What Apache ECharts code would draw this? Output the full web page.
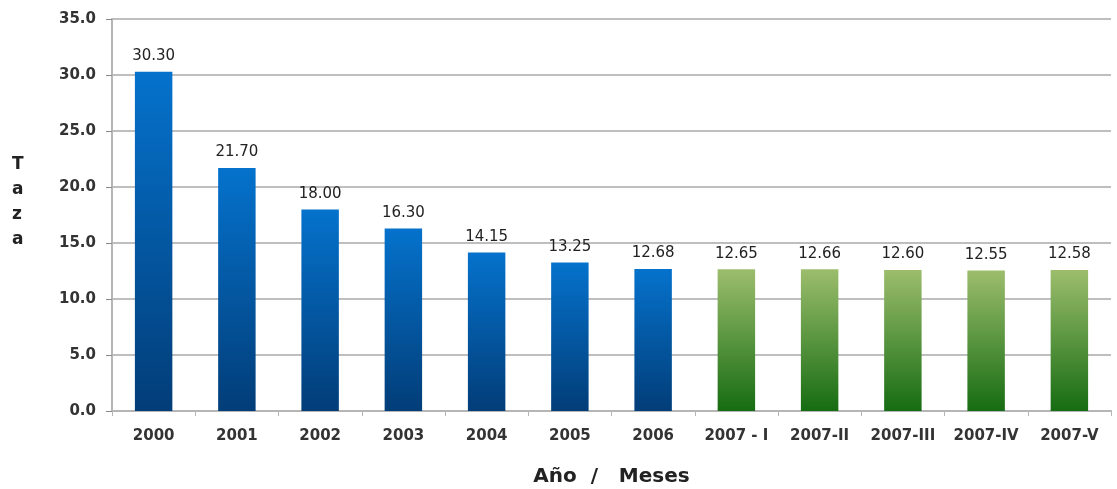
<!DOCTYPE html>
<html><head><meta charset="utf-8">
<script src="https://cdn.jsdelivr.net/npm/echarts@6/dist/echarts.min.js"></script>
<style>html,body{margin:0;padding:0;background:#fff}#c{width:1117px;height:489px}</style>
</head><body><div id="c"></div>
<script>
const categories = ['2000','2001','2002','2003','2004','2005','2006','2007 - I','2007-II','2007-III','2007-IV','2007-V'];
const values = [30.30, 21.70, 18.00, 16.30, 14.15, 13.25, 12.68, 12.65, 12.66, 12.60, 12.55, 12.58];
const valueLabels = ['30.30','21.70','18.00','16.30','14.15','13.25','12.68','12.65','12.66','12.60','12.55','12.58'];
const yTicks = [0, 5, 10, 15, 20, 25, 30, 35];
const blueIdx = 7; // first 7 bars are annual (blue), rest monthly (green)

const blue = new echarts.graphic.LinearGradient(0,0,0,1,[{offset:0,color:'#0572cc'},{offset:1,color:'#023d78'}]);
const green = new echarts.graphic.LinearGradient(0,0,0,1,[{offset:0,color:'#9cbd6c'},{offset:1,color:'#166c12'}]);

const chart = echarts.init(document.getElementById('c'));
chart.setOption({
  animation:false,
  grid:{left:112,right:6,top:19,bottom:78,outerBoundsMode:'none',containLabel:false},
  xAxis:{
    type:'category', data:categories,
    axisLine:{lineStyle:{color:'#b5b5b5',width:2}},
    axisTick:{show:true,alignWithLabel:false,interval:0,length:5,lineStyle:{color:'#b5b5b5'}},
    axisLabel:{interval:0,color:'#333',fontFamily:'DejaVu Sans',fontWeight:'bold',fontSize:15,margin:18},
    name:'Año  /   Meses', nameLocation:'middle', nameGap:56,
    nameTextStyle:{color:'#222',fontFamily:'DejaVu Sans',fontWeight:'bold',fontSize:20}
  },
  yAxis:{
    type:'value', min:yTicks[0], max:yTicks[yTicks.length-1], interval:5,
    axisLine:{show:true,lineStyle:{color:'#b5b5b5',width:2}},
    axisTick:{show:true,length:6,lineStyle:{color:'#888'}},
    splitLine:{lineStyle:{color:'#a8a8a8',width:1.5}},
    axisLabel:{color:'#333',fontFamily:'DejaVu Sans',fontWeight:'bold',fontSize:15,margin:16,
      formatter:v=>v.toFixed(1)}
  },
  graphic:[{type:'text',left:12,top:152,style:{text:'T\na\nz\na',fill:'#222',
    font:'bold 17px DejaVu Sans',lineHeight:25,align:'center'}}],
  series:[{
    type:'bar', barWidth:'45%',
    data:values.map((v,i)=>({value:v,itemStyle:{color:i<blueIdx?blue:green}})),
    label:{show:true,position:'top',distance:8,color:'#222',fontFamily:'DejaVu Sans',fontSize:15,
      formatter:p=>valueLabels[p.dataIndex]}
  }]
});
</script></body></html>
